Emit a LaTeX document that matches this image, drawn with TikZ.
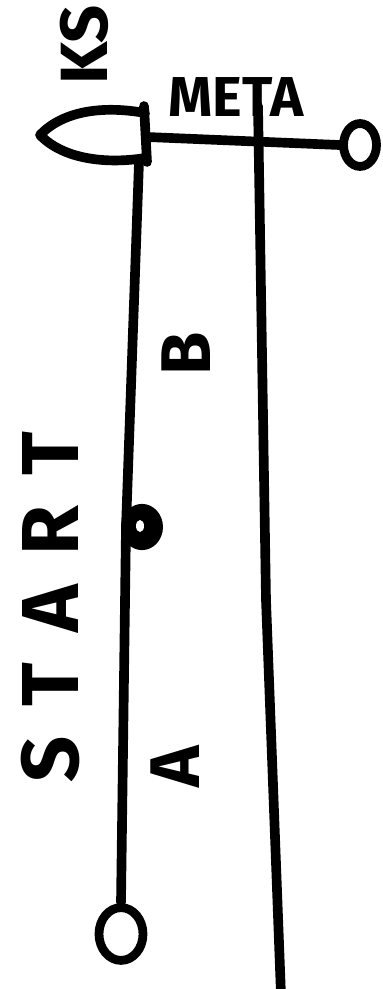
\documentclass[tikz,border=0pt]{standalone}
\usepackage{fontspec}
\setsansfont{Fira Sans}
\begin{document}
\begin{tikzpicture}[
  x=0.02cm,y=-0.02cm,
  stroke/.style={line width=5.5pt,line cap=round,line join=round},
  ring/.style={circle,draw,line width=5pt,inner sep=0pt},
  word/.style={font=\sffamily\bfseries,inner sep=0pt},
  upword/.style={word,rotate=90},
]
\useasboundingbox (0,0) rectangle (382,989);

% head on the left
\draw[stroke] (145,113) .. controls (100,105) and (62,112) .. (40,135)
              .. controls (64,160) and (108,164) .. (145,158);
\draw[stroke] (144,106) -- (147,162);
\coordinate (bar) at (147,137);
\coordinate (stem) at (139,162);

% rings
\node[ring,minimum size=0.66cm,yscale=1.3] (tip) at (360,145) {};
\node[ring,minimum size=0.88cm,yscale=1.2] (start) at (121,934) {};
\node[circle,fill,inner sep=0pt,minimum size=0.84cm,yscale=1.1] (dot) at (142,527) {};
\fill[white] (140,526) ellipse (4 and 6);
\coordinate (mid) at (126,527);

% lines
\draw[stroke] (bar) -- (tip.west);
\draw[stroke] (stem) -- (mid) -- (start.north);
\coordinate (top) at (258,106);
\coordinate (bend) at (266,600);
\coordinate (base) at (281,995);
\draw[stroke] (top) -- (bend) -- (base);

% texts
\node[upword,font=\sffamily\bfseries\fontsize{38}{38}\selectfont] (ks) at (84,45) {KS};
\node[word,font=\sffamily\bfseries\fontsize{32}{32}\selectfont] (meta) at (236,97) {META};
\node[upword,font=\sffamily\bfseries\fontsize{40}{40}\selectfont] (b) at (186,354) {B};
\node[upword,font=\sffamily\bfseries\fontsize{40}{40}\selectfont] (a) at (175,767) {A};
\node[upword,font=\sffamily\bfseries\fontsize{46}{46}\selectfont] (lbl) at (50,607)
  {S\hspace{17pt}T\hspace{17pt}A\hspace{17pt}R\hspace{17pt}T};

\end{tikzpicture}
\end{document}
